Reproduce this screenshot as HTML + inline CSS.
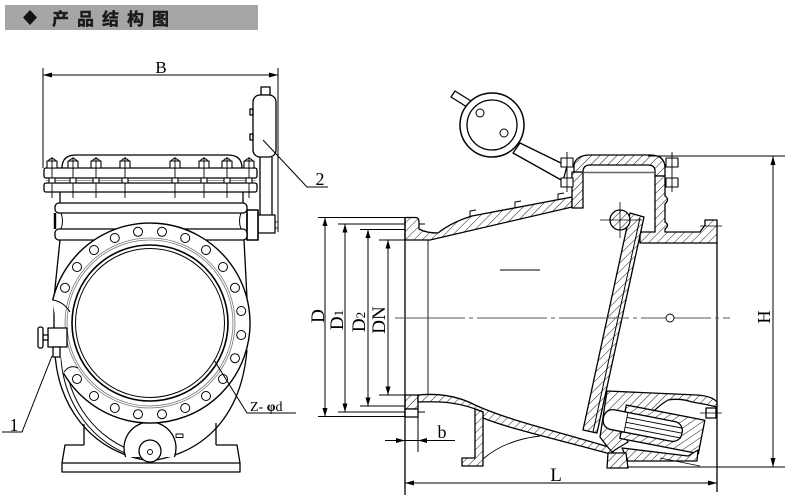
<!DOCTYPE html>
<html><head><meta charset="utf-8"><style>
html,body{margin:0;padding:0;background:#fff;}
svg{display:block;}
.s{font-family:"Liberation Serif",serif;fill:#000;stroke:none;}
</style></head><body>
<svg width="790" height="496" viewBox="0 0 790 496" xmlns="http://www.w3.org/2000/svg">
<defs>
<pattern id="h" patternUnits="userSpaceOnUse" width="6" height="6" patternTransform="rotate(45)">
<rect width="6" height="6" fill="#fff"/><line x1="0" y1="0" x2="0" y2="6" stroke="#000" stroke-width="0.9"/></pattern>
</defs>
<rect width="790" height="496" fill="#fff"/>
<!-- header -->
<rect x="5" y="5" width="253" height="25" fill="#a6a6a6"/>
<polygon points="30,10 37,17.5 30,25 23,17.5" fill="#111"/>
<text x="52" y="25" font-family="'Liberation Sans','Noto Sans CJK SC',sans-serif" font-weight="bold" font-size="17" letter-spacing="8" fill="#1a1a1a" stroke="#1a1a1a" stroke-width="0.4">产品结构图</text>

<g stroke="#000" fill="none" stroke-width="1.3" stroke-linejoin="round">
<!-- ================= LEFT VIEW ================= -->
<line x1="43" y1="68" x2="43" y2="168" stroke-width="1"/>
<line x1="278" y1="68" x2="278" y2="232" stroke-width="1"/>
<line x1="43" y1="75" x2="278" y2="75" stroke-width="1"/>
<polygon points="43,75 52,72.5 52,77.5" fill="#000" stroke="none"/>
<polygon points="278,75 269,72.5 269,77.5" fill="#000" stroke="none"/>

<!-- handle / weight -->
<rect x="261" y="87" width="9" height="8" fill="#fff"/>
<rect x="253" y="95" width="23" height="62" rx="7" fill="#fff"/>
<rect x="250" y="109" width="3" height="6"/>
<rect x="250" y="134" width="3" height="6"/>
<line x1="260" y1="157" x2="260" y2="215"/>
<line x1="272" y1="157" x2="272" y2="215"/>
<rect x="258" y="215" width="17" height="18" fill="#fff"/>
<rect x="247" y="210" width="11" height="30" fill="#fff" stroke-width="1.6"/>
<rect x="275" y="222" width="3" height="6" stroke-width="0.8"/>
<polyline points="263,140 307,187 328,187" stroke-width="1"/>

<!-- dome -->
<path d="M62,168 Q62,155 76,155 L228,155 Q242,155 242,168"/>
<rect x="44" y="168" width="213" height="10" rx="2" fill="#fff"/>
<rect x="44" y="183" width="213" height="9" rx="2" fill="#fff"/>
<line x1="46" y1="180.5" x2="255" y2="180.5" stroke="#777" stroke-width="0.8"/>
<g stroke-width="1.1">
<g id="bolt">
<line x1="52" y1="157" x2="52" y2="198" stroke-width="0.9"/>
<path d="M48,161 Q52,156 56,161" fill="#fff"/>
<rect x="47" y="161" width="10" height="7" fill="#fff"/>
<rect x="49" y="178" width="6" height="5" fill="#fff"/>
<line x1="52" y1="157" x2="52" y2="168" stroke-width="0.9"/>
</g>
<use href="#bolt" x="21"/>
<use href="#bolt" x="44"/>
<use href="#bolt" x="73"/>
<use href="#bolt" x="123"/>
<use href="#bolt" x="152"/>
<use href="#bolt" x="175"/>
<use href="#bolt" x="197"/>
</g>
<line x1="60" y1="192" x2="60" y2="203"/>
<line x1="243" y1="192" x2="243" y2="203"/>
<rect x="55" y="203" width="192" height="10" rx="4" fill="#fff"/>
<line x1="55" y1="213" x2="55" y2="229" stroke-width="2.4"/>
<line x1="247" y1="213" x2="247" y2="229"/>
<path d="M61,213 Q64,221 61,229 M241,213 Q238,221 241,229" stroke-width="1"/>
<rect x="55" y="229" width="192" height="11" rx="4" fill="#fff"/>
<path d="M60,240 Q57,270 54,298 L54,332"/>
<path d="M244,240 L247,298"/>

<!-- pear bottom -->
<path d="M55,352 C57,402 88,452 150,461 C212,452 242,408 247,350"/>
<path d="M61,357 C63,402 92,446 140,458" stroke-width="1"/>
<path d="M65,357 C67,399 95,441 140,453" stroke-width="1"/>
<line x1="84" y1="424" x2="84" y2="445"/>
<line x1="216" y1="423" x2="216" y2="445"/>
<path d="M84,445 L65,445 L62,463 L62,472 L240,472 L240,463 L237,445 L216,445"/>
<line x1="62" y1="463" x2="240" y2="463"/>
<path d="M125.6,457 A26,26 0 1 1 174.4,457" fill="#fff"/>
<circle cx="150" cy="451" r="11" fill="#fff"/>
<circle cx="150" cy="452" r="2.5" stroke-width="0.9"/>
<rect x="176" y="434" width="7" height="3.5" stroke-width="0.9"/>

<!-- flange circles -->
<path d="M52.6,300.5 A100,100 0 1 1 63.4,373" fill="#fff" stroke-width="1.4"/>
<circle cx="150" cy="323" r="85" stroke="#777" stroke-width="0.8"/>
<circle cx="150" cy="323" r="83" stroke="#777" stroke-width="0.8"/>
<circle cx="150" cy="323" r="78" stroke-width="1.6"/>
<circle cx="150" cy="323" r="74.5" stroke-width="1"/>
<path d="M53,300 Q64,302 70,312" stroke-width="1"/>
<path d="M64,372 Q70,364 78,368" stroke-width="1"/>
<g stroke-width="1">
<circle cx="241.2" cy="335" r="4.5"/><circle cx="235" cy="358.2" r="4.5"/><circle cx="223" cy="379" r="4.5"/>
<circle cx="206" cy="396" r="4.5"/><circle cx="185.2" cy="408" r="4.5"/><circle cx="162" cy="414.2" r="4.5"/>
<circle cx="138" cy="414.2" r="4.5"/><circle cx="114.8" cy="408" r="4.5"/><circle cx="94" cy="396" r="4.5"/>
<circle cx="77" cy="379" r="4.5"/>
<circle cx="65" cy="287.8" r="4.5"/><circle cx="77" cy="267" r="4.5"/><circle cx="94" cy="250" r="4.5"/>
<circle cx="114.8" cy="238" r="4.5"/><circle cx="138" cy="231.8" r="4.5"/><circle cx="162" cy="231.8" r="4.5"/>
<circle cx="185.2" cy="238" r="4.5"/><circle cx="206" cy="250" r="4.5"/><circle cx="223" cy="267" r="4.5"/>
<circle cx="235" cy="287.8" r="4.5"/><circle cx="241.2" cy="311" r="4.5"/>
</g>
<rect x="48" y="328" width="19" height="19" fill="#fff"/>
<rect x="43" y="335" width="5" height="5" fill="#fff"/>
<rect x="38" y="327" width="5" height="21" rx="2" fill="#fff"/>
<rect x="53" y="347" width="7" height="10" fill="#fff"/>
<polyline points="52,356 22,432 2,432" stroke-width="1"/>
<polyline points="214,360 247,413 296,413" stroke-width="1"/>

<!-- ================= RIGHT VIEW ================= -->
<g stroke-width="1">
<line x1="318" y1="217.5" x2="417" y2="217.5"/><line x1="318" y1="416.5" x2="417" y2="416.5"/>
<line x1="338" y1="224" x2="425" y2="224"/><line x1="338" y1="412" x2="425" y2="412"/>
<line x1="360" y1="229.5" x2="405" y2="229.5"/><line x1="360" y1="406" x2="405" y2="406"/>
<line x1="379" y1="240" x2="428" y2="240"/><line x1="379" y1="395" x2="428" y2="395"/>
<line x1="325" y1="217.5" x2="325" y2="416.5"/>
<line x1="345" y1="224" x2="345" y2="412"/>
<line x1="368" y1="229.5" x2="368" y2="406"/>
<line x1="388" y1="240" x2="388" y2="395"/>
</g>
<g fill="#000" stroke="none">
<polygon points="325,217.5 322.5,226 327.5,226"/><polygon points="325,416.5 322.5,408 327.5,408"/>
<polygon points="345,224 342.5,232.5 347.5,232.5"/><polygon points="345,412 342.5,403.5 347.5,403.5"/>
<polygon points="368,229.5 365.5,238 370.5,238"/><polygon points="368,406 365.5,397.5 370.5,397.5"/>
<polygon points="388,240 385.5,248.5 390.5,248.5"/><polygon points="388,395 385.5,386.5 390.5,386.5"/>
</g>

<!-- lever -->
<polygon points="451,97 455,91 471,101 467,107" fill="#fff"/>
<polygon points="520,143 567,166 563,181 513,153" fill="#fff"/>
<circle cx="492" cy="125" r="32" fill="#fff" stroke-width="1.5"/>
<circle cx="492" cy="125" r="25" stroke-width="1.3"/>
<circle cx="480" cy="113" r="4" stroke-width="1"/>
<circle cx="504" cy="133" r="4" stroke-width="1"/>

<!-- left flange & upper wall -->
<path d="M405,217.5 L416,217.5 Q419,218 419,222 L419,229 Q426,233 438,233 Q452,222 472,216 L572,197 L572,207 L430,240 L405,240 Z" fill="url(#h)"/>
<path d="M470,217 L470,211 L476,210 M515,208 L515,202 L521,201 M558,200 L558,194 L564,193" stroke-width="1"/>
<rect x="405" y="395" width="13" height="14" fill="url(#h)"/>
<rect x="405" y="409" width="13" height="8" fill="#fff"/>
<line x1="405" y1="217" x2="405" y2="495" stroke-width="1.3"/>
<line x1="428" y1="240" x2="428" y2="395" stroke-width="0.9"/>
<!-- housing -->
<rect x="572" y="172" width="11" height="36" fill="url(#h)"/>
<path d="M574,172 L574,164 Q577,155 590,155 L650,155 Q665,155 665,168 L665,176 L655,176 L655,171 Q655,165 648,165 L590,165 Q583,165 583,172 Z" fill="url(#h)"/>
<path d="M655,176 L665,176 L665,196 Q670,199 665,204 L665,222 Q670,225 665,229 L665,232 L700,232 L705,225 L705,220 L717,220 L717,243 L640,243 L640,232 L655,232 Z" fill="url(#h)"/>
<line x1="583" y1="172.5" x2="655" y2="172.5" stroke="#666" stroke-width="1.5"/>
<g stroke-width="1.1">
<rect x="561" y="158" width="12" height="9" fill="#fff"/>
<rect x="561" y="178" width="12" height="9" fill="#fff"/>
<line x1="567" y1="152" x2="567" y2="192" stroke-width="0.9"/>
<rect x="666" y="158" width="12" height="9" fill="#fff"/>
<rect x="666" y="178" width="12" height="9" fill="#fff"/>
<line x1="672" y1="152" x2="672" y2="192" stroke-width="0.9"/>
</g>
<line x1="700" y1="226" x2="722" y2="226" stroke-width="0.8"/>
<!-- disc -->
<polygon points="630,213 644,217 597,433 583,430" fill="url(#h)"/>
<line x1="640" y1="218" x2="593" y2="432" stroke-width="1"/>
<circle cx="620" cy="220" r="10" fill="url(#h)"/>
<line x1="600" y1="220" x2="642" y2="220" stroke-width="0.8"/>
<line x1="620" y1="202" x2="620" y2="238" stroke-width="0.8"/>
<line x1="717" y1="243" x2="717" y2="492" stroke-width="1.3"/>
<line x1="395" y1="318" x2="730" y2="318" stroke="#555" stroke-width="0.9" stroke-dasharray="70 4 4 4"/>
<circle cx="670" cy="318" r="4" stroke-width="0.9" fill="#fff"/>
<line x1="500" y1="270" x2="540" y2="270" stroke-width="1.1"/>

<!-- lower wall -->
<path d="M418,395 C440,393 458,396 475,405 C510,421 560,432 612,448 L614,455 C560,440 510,429 483,418 L483,412 C460,402 440,401 418,402 Z" fill="url(#h)"/>
<path d="M475,409 L483,412 L483,466 L462,466 L462,458 L475,458 Z" fill="url(#h)"/>
<path d="M483,459 Q505,440 540,436" stroke-width="0.9"/>
<!-- seat -->
<path d="M607,391 L697,395 Q712,396 717,402 L717,407 Q705,404 692,402 Q680,398 668,400 Q660,405 655,410 L628,412 L622,430 L628,442 L618,448 L612,452 L606,445 L600,437 Z" fill="url(#h)"/>
<g transform="rotate(11 650 430)">
<rect x="622" y="410" width="80" height="34" fill="url(#h)"/>
<rect x="602" y="417" width="80" height="20" rx="9" fill="#fff"/>
<line x1="625" y1="422" x2="682" y2="422" stroke-width="0.9"/>
<line x1="625" y1="427" x2="682" y2="427" stroke-width="0.9"/>
<line x1="625" y1="432" x2="682" y2="432" stroke-width="0.9"/>
<line x1="625" y1="417" x2="625" y2="437" stroke-width="0.9"/>
</g>
<path d="M622,448 L688,456 L698,450 L697,461 L628,461 Z" fill="url(#h)"/>
<path d="M608,453 L626,453 L628,468 L607,468 Z" fill="url(#h)"/>
<line x1="660" y1="458" x2="700" y2="466" stroke-width="0.8"/>
<rect x="706" y="408" width="10" height="10" fill="#fff"/>
<line x1="700" y1="413" x2="722" y2="413" stroke-width="0.8"/>

<!-- H dim -->
<g stroke-width="1">
<line x1="648" y1="156" x2="785" y2="156"/>
<line x1="627" y1="467" x2="785" y2="467"/>
<line x1="773" y1="156" x2="773" y2="467"/>
</g>
<g fill="#000" stroke="none">
<polygon points="773,156 770.5,165 775.5,165"/><polygon points="773,467 770.5,458 775.5,458"/>
</g>
<line x1="405" y1="483" x2="717" y2="483" stroke-width="1"/>
<g fill="#000" stroke="none">
<polygon points="405,483 414,480.5 414,485.5"/><polygon points="717,483 708,480.5 708,485.5"/>
</g>
<line x1="418" y1="417" x2="418" y2="452" stroke-width="1"/>
<line x1="385" y1="440.5" x2="455" y2="440.5" stroke-width="1"/>
<g fill="#000" stroke="none">
<polygon points="405,440.5 396,438 396,443"/><polygon points="418,440.5 427,438 427,443"/>
</g>
</g>

<!-- labels -->
<text class="s" x="161" y="73" font-size="17" text-anchor="middle">B</text>
<text class="s" x="320" y="185" font-size="18" text-anchor="middle">2</text>
<text class="s" x="14" y="431" font-size="18" text-anchor="middle">1</text>
<text class="s" x="250" y="411" font-size="14">Z- <tspan font-weight="bold">φ</tspan>d</text>
<text class="s" font-size="19" text-anchor="middle" transform="translate(324,316) rotate(-90)">D</text>
<text class="s" font-size="19" text-anchor="middle" transform="translate(343,320) rotate(-90)">D<tspan font-size="13">1</tspan></text>
<text class="s" font-size="19" text-anchor="middle" transform="translate(365,322) rotate(-90)">D<tspan font-size="13">2</tspan></text>
<text class="s" font-size="19" text-anchor="middle" transform="translate(385,320) rotate(-90)">DN</text>
<text class="s" font-size="18" text-anchor="middle" transform="translate(770,317) rotate(-90)">H</text>
<text class="s" x="556" y="481" font-size="19" text-anchor="middle">L</text>
<text class="s" x="442" y="438" font-size="18" text-anchor="middle">b</text>
</svg>
</body></html>
